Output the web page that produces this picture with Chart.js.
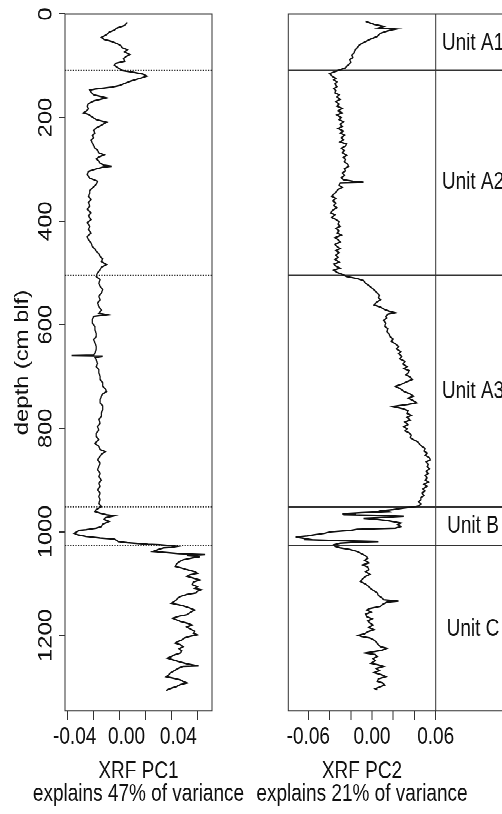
<!DOCTYPE html>
<html><head><meta charset="utf-8">
<script src="https://cdn.jsdelivr.net/npm/chart.js@4.4.1/dist/chart.umd.min.js"></script>
<style>
html,body{margin:0;padding:0;background:#fff;overflow:hidden;width:502px;height:814px;}
#stage{position:absolute;left:0;top:0;width:502px;height:651px;transform:scaleY(1.250384);transform-origin:0 0;}
#c1{position:absolute;left:0;top:0;}
#c2{position:absolute;left:250px;top:0;}
</style></head><body>
<div id="stage"><canvas id="c1" width="250" height="651"></canvas><canvas id="c2" width="252" height="651"></canvas></div>
<script>
// ---------- data (depth in cm blf) ----------
const depthPC1 = [
16,22,27,31,35,40,45,49,53,57,
61,65,69,73,78,82,86,91,95,99,
104,109,112,116,120,124,130,134,138,141,
143,145,147,151,156,159,162,165,168,173,
178,183,188,191,194,199,204,209,212,215,
220,225,230,235,239,244,249,254,259,263,
268,272,276,280,284,288,292,294,296,300,
304,310,317,323,329,336,341,346,352,358,
364,371,377,384,390,397,403,410,416,423,
430,436,442,449,454,458,463,468,473,478,
484,489,494,500,507,513,520,526,532,539,
545,552,558,565,572,578,581,584,590,597,
604,610,617,623,629,635,642,648,655,659,
660,661,663,668,675,681,687,693,700,706,
712,719,724,729,734,738,745,751,757,764,
770,777,783,790,797,803,810,816,822,829,
835,841,845,850,854,861,867,874,880,887,
893,900,906,912,919,925,932,938,945,951,
957,961,964,967,969,973,976,980,985,990,
993,996,997,1000,1003,1006,1009,1012,1014,1017,
1019,1021,1022,1024,1025,1027,1028,1030,1031,1034,
1038,1040,1042,1044,1046,1048,1050,1054,1058,1062,
1067,1070,1073,1077,1080,1083,1086,1090,1093,1097,
1102,1106,1109,1112,1115,1118,1121,1125,1128,1131,
1135,1138,1141,1143,1147,1151,1155,1160,1163,1167,
1170,1173,1177,1180,1184,1188,1192,1196,1199,1202,
1205,1209,1212,1215,1218,1222,1226,1230,1234,1238,
1241,1244,1247,1251,1255,1259,1260,1264,1267,1270,
1273,1276,1280,1283,1286,1289,1292,1295,1299,1302,
1305,1307];
const pc1 = [
0.006,0.004,-0.002,-0.004,-0.008,-0.010,-0.014,-0.012,-0.006,-0.002,
0.001,0.002,0.006,0.004,0.008,0.005,0.003,0.004,-0.003,-0.004,
-0.001,0.002,0.010,0.018,0.021,0.016,0.008,0.004,0.000,-0.006,
-0.012,-0.019,-0.023,-0.022,-0.020,-0.015,-0.010,-0.015,-0.020,-0.024,
-0.025,-0.024,-0.026,-0.028,-0.024,-0.021,-0.018,-0.010,-0.012,-0.014,
-0.018,-0.020,-0.019,-0.021,-0.020,-0.022,-0.021,-0.020,-0.019,-0.017,
-0.016,-0.012,-0.016,-0.018,-0.016,-0.015,-0.012,-0.006,-0.013,-0.019,
-0.024,-0.025,-0.023,-0.017,-0.018,-0.021,-0.023,-0.023,-0.024,-0.022,
-0.024,-0.023,-0.025,-0.022,-0.024,-0.022,-0.025,-0.023,-0.024,-0.022,
-0.025,-0.024,-0.022,-0.021,-0.019,-0.018,-0.016,-0.015,-0.013,-0.014,
-0.010,-0.014,-0.015,-0.017,-0.018,-0.015,-0.016,-0.015,-0.013,-0.014,
-0.016,-0.015,-0.017,-0.016,-0.014,-0.016,-0.010,-0.020,-0.021,-0.021,
-0.019,-0.019,-0.018,-0.018,-0.020,-0.019,-0.018,-0.018,-0.019,-0.020,
-0.037,-0.013,-0.019,-0.018,-0.017,-0.018,-0.016,-0.016,-0.015,-0.015,
-0.013,-0.013,-0.011,-0.010,-0.013,-0.014,-0.015,-0.015,-0.013,-0.013,
-0.014,-0.014,-0.016,-0.015,-0.017,-0.016,-0.018,-0.018,-0.016,-0.019,
-0.016,-0.015,-0.011,-0.014,-0.015,-0.017,-0.015,-0.016,-0.017,-0.015,
-0.016,-0.014,-0.016,-0.015,-0.017,-0.015,-0.016,-0.015,-0.016,-0.014,
-0.018,-0.019,-0.015,-0.010,-0.004,-0.011,-0.012,-0.008,-0.013,-0.014,
-0.018,-0.026,-0.031,-0.033,-0.035,-0.032,-0.026,-0.015,-0.004,-0.002,
-0.001,0.006,0.011,0.022,0.031,0.041,0.045,0.040,0.034,0.030,
0.026,0.036,0.046,0.066,0.052,0.062,0.057,0.049,0.046,0.044,
0.043,0.048,0.052,0.058,0.060,0.054,0.052,0.058,0.062,0.057,
0.056,0.060,0.058,0.063,0.060,0.059,0.052,0.047,0.045,0.044,
0.042,0.040,0.046,0.049,0.054,0.058,0.055,0.052,0.046,0.041,
0.044,0.047,0.053,0.056,0.052,0.055,0.058,0.057,0.060,0.054,
0.050,0.048,0.045,0.043,0.047,0.049,0.046,0.048,0.047,0.042,
0.040,0.037,0.041,0.046,0.052,0.061,0.049,0.045,0.043,0.041,
0.039,0.038,0.036,0.042,0.047,0.049,0.052,0.047,0.044,0.040,
0.037,0.036];

const depthPC2 = [
14,20,24,27,29,31,33,37,43,49,
53,56,60,65,70,75,80,84,88,93,
98,101,104,107,109,112,115,117,121,124,
127,131,135,140,144,148,152,156,160,165,
169,174,178,182,187,191,195,200,204,208,
213,217,221,226,230,234,239,243,247,251,
255,259,264,268,273,277,281,285,290,294,
299,303,307,312,316,320,323,325,326,331,
335,339,344,348,352,356,361,365,370,374,
379,384,388,393,397,401,406,410,414,419,
423,427,432,436,440,445,449,453,457,461,
466,470,474,479,483,487,491,495,499,503,
507,511,515,520,526,531,535,539,544,548,
552,557,562,566,571,574,577,580,584,587,
592,597,603,608,613,618,623,628,632,637,
642,647,652,656,661,666,671,676,681,685,
689,693,697,701,706,710,715,719,723,729,
733,738,742,746,751,754,758,762,766,771,
775,779,784,788,793,797,801,805,809,813,
818,822,826,831,835,839,844,848,852,857,
861,865,870,874,878,883,887,891,896,900,
904,908,912,917,921,925,930,934,938,942,
946,950,952,954,957,959,961,963,965,966,
967,968,970,972,974,976,978,981,983,986,
988,990,993,995,997,1000,1003,1006,1008,1010,
1012,1014,1015,1016,1017,1018,1019,1020,1022,1025,
1028,1031,1034,1038,1041,1044,1048,1051,1055,1060,
1064,1068,1073,1077,1082,1086,1091,1096,1101,1106,
1110,1114,1118,1123,1127,1131,1134,1136,1140,1144,
1148,1151,1155,1159,1164,1168,1172,1176,1180,1185,
1189,1193,1197,1200,1202,1205,1209,1213,1218,1222,
1225,1229,1234,1237,1241,1245,1249,1254,1257,1260,
1264,1268,1272,1276,1280,1284,1289,1292,1296,1300,
1303,1305];
const pc2 = [
-0.006,0.002,0.011,0.006,0.023,0.018,0.014,0.008,0.005,-0.002,
-0.006,-0.009,-0.012,-0.014,-0.016,-0.017,-0.019,-0.018,-0.021,-0.020,
-0.022,-0.024,-0.025,-0.029,-0.032,-0.036,-0.040,-0.039,-0.037,-0.034,
-0.036,-0.033,-0.035,-0.033,-0.036,-0.034,-0.035,-0.031,-0.033,-0.030,
-0.034,-0.031,-0.033,-0.028,-0.032,-0.028,-0.033,-0.029,-0.031,-0.027,
-0.030,-0.028,-0.032,-0.027,-0.030,-0.026,-0.029,-0.027,-0.030,-0.024,
-0.025,-0.029,-0.026,-0.028,-0.024,-0.027,-0.025,-0.026,-0.023,-0.022,
-0.026,-0.025,-0.028,-0.026,-0.029,-0.027,-0.018,-0.008,-0.030,-0.031,
-0.028,-0.032,-0.034,-0.036,-0.038,-0.034,-0.037,-0.034,-0.036,-0.033,
-0.037,-0.039,-0.035,-0.038,-0.034,-0.031,-0.032,-0.030,-0.034,-0.031,
-0.033,-0.029,-0.035,-0.032,-0.030,-0.035,-0.033,-0.030,-0.034,-0.031,
-0.034,-0.032,-0.035,-0.031,-0.036,-0.034,-0.030,-0.036,-0.033,-0.028,
-0.024,-0.014,-0.008,-0.006,-0.002,0.001,0.003,0.005,0.007,0.006,
0.008,0.004,0.002,0.008,0.012,0.016,0.022,0.015,0.013,0.014,
0.011,0.013,0.012,0.015,0.014,0.016,0.017,0.020,0.018,0.022,
0.025,0.023,0.027,0.025,0.028,0.026,0.031,0.029,0.033,0.030,
0.035,0.034,0.032,0.036,0.038,0.033,0.028,0.022,0.026,0.030,
0.035,0.039,0.034,0.038,0.042,0.034,0.020,0.029,0.034,0.033,
0.037,0.033,0.036,0.031,0.034,0.030,0.033,0.031,0.035,0.037,
0.036,0.039,0.043,0.045,0.047,0.050,0.049,0.052,0.050,0.054,
0.055,0.051,0.053,0.052,0.054,0.051,0.053,0.050,0.052,0.050,
0.053,0.049,0.052,0.048,0.050,0.047,0.049,0.046,0.046,0.044,
0.046,0.044,0.039,0.030,0.020,0.010,0.014,-0.010,-0.028,-0.015,
-0.027,0.005,0.030,0.012,-0.008,0.005,0.014,0.022,0.027,0.024,
0.026,0.027,0.022,-0.014,-0.020,-0.039,-0.045,-0.055,-0.061,-0.072,
-0.066,-0.060,-0.064,-0.045,-0.033,-0.010,0.006,-0.015,-0.030,-0.036,
-0.035,-0.030,-0.021,-0.014,-0.011,-0.008,-0.005,-0.004,-0.007,-0.003,
-0.009,-0.004,-0.003,-0.006,-0.002,-0.006,-0.009,-0.011,-0.006,-0.003,
-0.001,0.002,0.005,0.006,0.009,0.011,0.025,0.014,0.010,0.008,
-0.002,-0.005,-0.001,-0.006,-0.005,0.000,-0.004,-0.002,0.001,-0.003,
0.002,-0.004,-0.007,-0.013,-0.010,-0.002,0.002,0.004,0.006,0.008,
0.014,0.009,-0.006,0.003,0.005,0.001,0.003,-0.001,0.006,0.011,
0.004,0.007,0.002,0.009,0.013,0.006,0.005,0.010,0.012,0.007,
0.003,0.005];

const unitBoundaries = [109, 505, 952, 1026];
const unitNames = ['Unit A1', 'Unit A2', 'Unit A3', 'Unit B', 'Unit C'];
const unitLabelDepths = [57, 325, 730, 989, 1188];

const depthTicks = [0, 200, 400, 600, 800, 1000, 1200];
const pc1Ticks = [-0.04, -0.02, 0, 0.02, 0.04, 0.06];
const pc1TickLabels = ['-0.04', '', '0.00', '', '0.04', ''];
const pc2Ticks = [-0.06, -0.04, -0.02, 0, 0.02, 0.04, 0.06];
const pc2TickLabels = ['-0.06', '', '', '0.00', '', '', '0.06'];
const titlePC1 = ['XRF PC1', 'explains 47% of variance'];
const titlePC2 = ['XRF PC2', 'explains 21% of variance'];
const depthTitle = 'depth (cm blf)';

// ---------- layout (canvas units; stage is stretched vertically) ----------
const DEPTH_MAX = 1346;
const X1MIN = -0.04208, X1MAX = 0.07134;
const X2MIN = -0.07884, X2MAX = 0.12245, UNIT_EDGE = 0.06;
const TOP = 11.2, AXIS_H = 82.4;
const FONT = {family: '"Liberation Sans", Arial, Helvetica, sans-serif', size: 19};
const INK = '#111', AXIS = '#333';

const boxPlugin = {
  id: 'box',
  afterDatasetsDraw(chart, args, opts) {
    const {ctx, chartArea: a} = chart;
    ctx.save();
    ctx.strokeStyle = AXIS; ctx.lineWidth = 1;
    ctx.beginPath();
    if (opts.full) { ctx.rect(a.left, a.top, a.right - a.left, a.bottom - a.top); }
    else {
      ctx.moveTo(a.right + 2, a.top); ctx.lineTo(a.left, a.top);
      ctx.lineTo(a.left, a.bottom); ctx.lineTo(a.right + 2, a.bottom);
    }
    ctx.stroke(); ctx.restore();
  }
};
const xTitlePlugin = {
  id: 'xtitle',
  afterDraw(chart, args, opts) {
    const {ctx, chartArea: a, scales} = chart;
    const right = opts.edge !== undefined ? scales.x.getPixelForValue(opts.edge) : a.right;
    const cx = (a.left + right) / 2;
    ctx.save();
    ctx.font = `${FONT.size}px ${FONT.family}`;
    ctx.fillStyle = INK; ctx.textAlign = 'center'; ctx.textBaseline = 'middle';
    opts.lines.forEach((t, i) => ctx.fillText(t, cx, 617.4 + i * 18));
    ctx.restore();
  }
};
const unitPlugin = {
  id: 'units',
  afterDatasetsDraw(chart) {
    const {ctx, scales} = chart;
    ctx.save();
    ctx.font = `${FONT.size}px ${FONT.family}`;
    ctx.fillStyle = INK; ctx.textAlign = 'center'; ctx.textBaseline = 'middle';
    unitNames.forEach((n, i) => ctx.fillText(n, 223, scales.y.getPixelForValue(unitLabelDepths[i])));
    ctx.restore();
  }
};

function xAxis(min, max, ticks, labels, labelOffset) {
  return {
    type: 'linear', position: 'bottom', min, max,
    afterBuildTicks: s => { s.ticks = ticks.map(v => ({value: v})); },
    afterFit: s => { s.height = AXIS_H; },
    grid: {display: true, drawOnChartArea: false, drawTicks: true, tickLength: 7, color: AXIS, lineWidth: 1},
    border: {display: false},
    ticks: {autoSkip: false, maxRotation: 0, minRotation: 0, padding: 2.8, labelOffset,
            font: FONT, color: INK, callback: (v, i) => labels[i]}
  };
}

new Chart(document.getElementById('c1'), {
  type: 'scatter',
  data: {datasets: [
    {data: depthPC1.map((d, i) => ({x: pc1[i], y: d})), showLine: true, borderColor: INK,
     borderWidth: 1.25, pointRadius: 0, tension: 0},
    ...unitBoundaries.map(d => ({data: [{x: X1MIN, y: d}, {x: X1MAX, y: d}], showLine: true,
      borderColor: '#222', borderWidth: 0.9, borderDash: [1.2, 1.4], pointRadius: 0}))
  ]},
  options: {
    responsive: false, animation: false, devicePixelRatio: 2, events: [],
    layout: {padding: {left: 0, top: TOP, right: 38, bottom: 0}},
    plugins: {legend: {display: false}, tooltip: {enabled: false}, box: {full: true}, xtitle: {lines: titlePC1}},
    scales: {
      x: xAxis(X1MIN, X1MAX, pc1Ticks, pc1TickLabels, 7),
      y: {
        type: 'linear', position: 'left', reverse: true, min: 0, max: DEPTH_MAX,
        afterBuildTicks: s => { s.ticks = depthTicks.map(v => ({value: v})); },
        afterFit: s => { s.width = 65; },
        grid: {display: true, drawOnChartArea: false, drawTicks: true, tickLength: 6, color: AXIS, lineWidth: 1},
        border: {display: false},
        ticks: {autoSkip: false, minRotation: 90, maxRotation: 90, crossAlign: 'center', padding: -8.5,
                font: FONT, color: INK, callback: v => String(v)},
        title: {display: true, text: depthTitle, font: FONT, color: INK, padding: {top: 11.3, bottom: 0}}
      }
    }
  },
  plugins: [boxPlugin, xTitlePlugin]
});

new Chart(document.getElementById('c2'), {
  type: 'scatter',
  data: {datasets: [
    {data: depthPC2.map((d, i) => ({x: pc2[i], y: d})), showLine: true, borderColor: INK,
     borderWidth: 1.25, pointRadius: 0, tension: 0},
    ...unitBoundaries.map(d => ({data: [{x: X2MIN, y: d}, {x: X2MAX, y: d}], showLine: true,
      borderColor: '#333', borderWidth: 1.1, pointRadius: 0})),
    {data: [{x: UNIT_EDGE, y: 0}, {x: UNIT_EDGE, y: DEPTH_MAX}], showLine: true,
     borderColor: '#333', borderWidth: 1, pointRadius: 0}
  ]},
  options: {
    responsive: false, animation: false, devicePixelRatio: 2, events: [],
    layout: {padding: {left: 38.3, top: TOP, right: 0, bottom: 0}},
    plugins: {legend: {display: false}, tooltip: {enabled: false}, box: {full: false},
              xtitle: {lines: titlePC2, edge: UNIT_EDGE}},
    scales: {
      x: xAxis(X2MIN, X2MAX, pc2Ticks, pc2TickLabels, 0),
      y: {type: 'linear', display: false, reverse: true, min: 0, max: DEPTH_MAX}
    }
  },
  plugins: [boxPlugin, xTitlePlugin, unitPlugin]
});
</script>
</body></html>
